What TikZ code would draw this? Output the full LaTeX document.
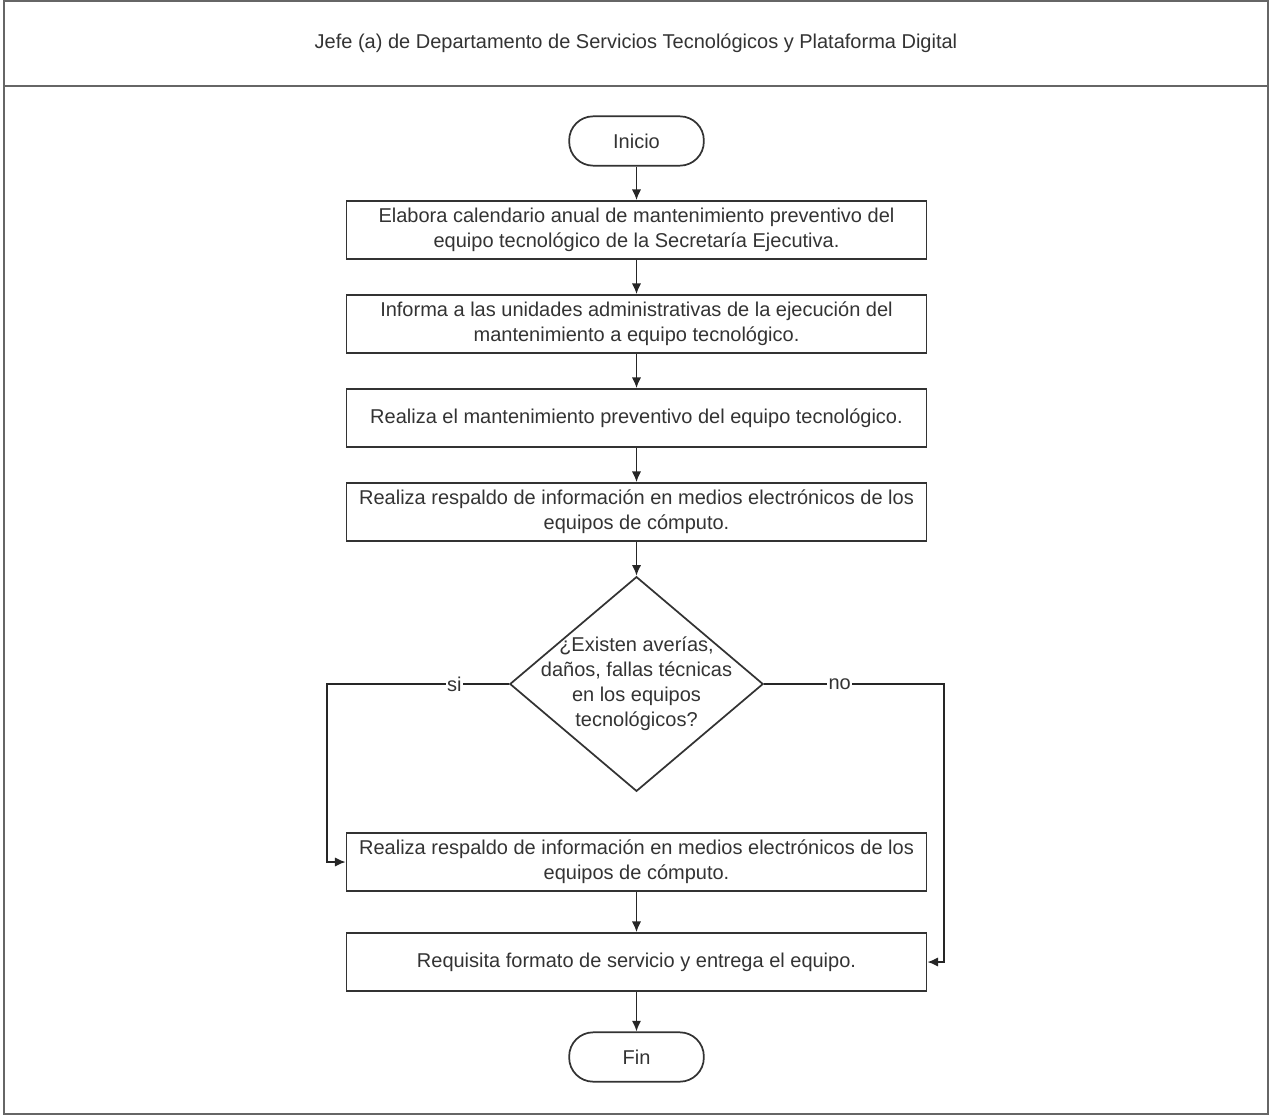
\documentclass[tikz,border=0pt]{standalone}
\usepackage{fontspec}
\setmainfont{Liberation Sans}
\usetikzlibrary{shapes.geometric, arrows.meta}

\begin{document}
\begin{tikzpicture}[x=0.75pt, y=-0.75pt, >={Latex[length=8pt, width=7pt]},
    every node/.style={font=\fontsize{15}{18.75}\selectfont, text=black!80},
    proceso/.style={draw=black!80, line width=1.3pt, rectangle, minimum width=435pt,
        minimum height=43.5pt, align=center, inner sep=2pt},
    terminal/.style={draw=black!80, line width=1.3pt, rounded corners=18pt,
        minimum width=101pt, minimum height=37pt},
    decision/.style={draw=black!80, line width=1.3pt, diamond, aspect=1.18, align=center,
        inner xsep=0pt, inner ysep=-20pt, minimum width=190pt, minimum height=161pt},
    flecha/.style={->, draw=black!85, line width=1.3pt},
    etiqueta/.style={fill=white, inner sep=1pt}]

    % 0. Marco y encabezado
    \useasboundingbox (0,0) rectangle (1270,1116);
    \draw[black!60, line width=2.2pt] (4,1) rectangle (1268,1114);
    \draw[black!60, line width=2.2pt] (4,86) -- (1268,86);
    \node (jefe) at (636,43) {Jefe (a) de Departamento de Servicios Tecnológicos y Plataforma Digital};

    % 1. Nodos del diagrama
    \node[terminal] (inicio) at (636.5,141) {Inicio};
    \node[proceso] (calendario) at (636.5,230)
        {Elabora calendario anual de mantenimiento preventivo del\\ equipo tecnológico de la Secretaría Ejecutiva.};
    \node[proceso] (informa) at (636.5,324)
        {Informa a las unidades administrativas de la ejecución del\\ mantenimiento a equipo tecnológico.};
    \node[proceso] (preventivo) at (636.5,418)
        {Realiza el mantenimiento preventivo del equipo tecnológico.};
    \node[proceso] (respaldo) at (636.5,512)
        {Realiza respaldo de información en medios electrónicos de los\\ equipos de cómputo.};
    \node[decision] (averias) at (636.5,684)
        {¿Existen averías,\\ daños, fallas técnicas\\ en los equipos\\ tecnológicos?};
    \node[proceso] (respaldob) at (636.5,862)
        {Realiza respaldo de información en medios electrónicos de los\\ equipos de cómputo.};
    \node[proceso] (entrega) at (636.5,962)
        {Requisita formato de servicio y entrega el equipo.};
    \node[terminal] (fin) at (636.5,1057) {Fin};

    % 2. Conectores
    \draw[flecha] (inicio) -- (calendario);
    \draw[flecha] (calendario) -- (informa);
    \draw[flecha] (informa) -- (preventivo);
    \draw[flecha] (preventivo) -- (respaldo);
    \draw[flecha] (respaldo) -- (averias);
    \draw[flecha] (respaldob) -- (entrega);
    \draw[flecha] (entrega) -- (fin);

    % 3. Ramas si / no
    \draw[flecha] (averias.west) -- node[etiqueta, pos=0.3] {si} ++(-182,0) |- (respaldob.west);
    \draw[flecha] (averias.east) -- node[etiqueta, pos=0.42] {no} ++(180,0) |- (entrega.east);

\end{tikzpicture}
\end{document}
